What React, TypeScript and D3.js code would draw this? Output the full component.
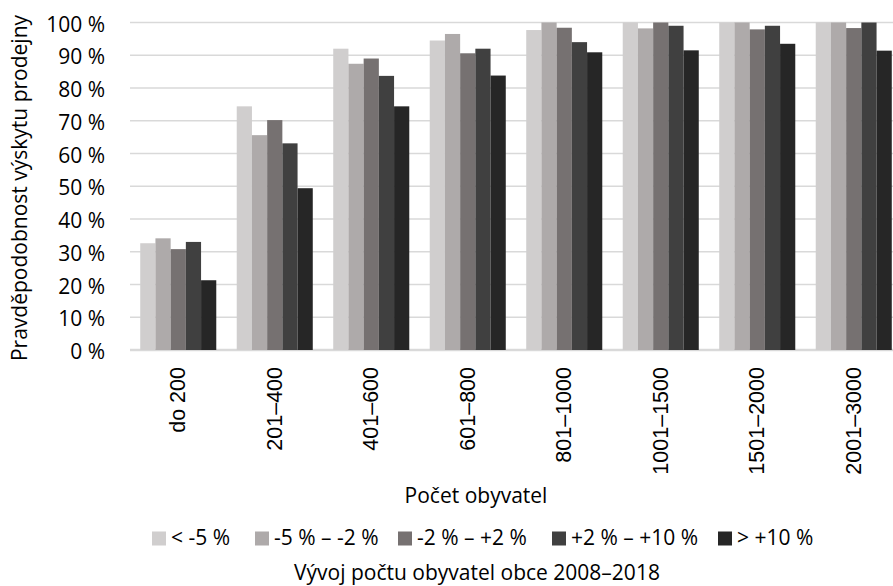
import React from "react";
import * as d3 from "d3";

const categories = ["do 200", "201–400", "401–600", "601–800", "801–1000", "1001–1500", "1501–2000", "2001–3000"];
const seriesNames = ["< -5 %", "-5 % – -2 %", "-2 % – +2 %", "+2 % – +10 %", "> +10 %"];
const sLess5 = [32.6, 74.4, 92.0, 94.5, 97.7, 100, 100, 100];
const sM5M2 = [34.1, 65.6, 87.4, 96.5, 100, 98.2, 100, 100];
const sM2P2 = [30.8, 70.2, 89.0, 90.6, 98.4, 100, 97.9, 98.3];
const sP2P10 = [33.0, 63.1, 83.7, 92.0, 94.0, 99.0, 99.0, 100];
const sMore10 = [21.3, 49.4, 74.4, 83.8, 90.9, 91.5, 93.5, 91.4];
const yTicks = [0, 10, 20, 30, 40, 50, 60, 70, 80, 90, 100];
const colors = ["#d0cece", "#aeaaaa", "#767171", "#404040", "#262626"];
const legendX = [152, 255, 398, 552, 718];

const W = 893, H = 586;
const FONT = "'Open Sans', sans-serif";
const XFONT = "'Liberation Sans', Arial, sans-serif";

export default function App() {
  const series = [sLess5, sM5M2, sM2P2, sP2P10, sMore10];
  const x = d3.scaleBand<string>().domain(categories).range([130, 902]).paddingInner(0.212).paddingOuter(0.106);
  const xs = d3.scaleBand<number>().domain(d3.range(series.length)).range([0, x.bandwidth()]);
  const y = d3.scaleLinear().domain([0, 100]).range([350, 22.5]);

  return (
    <svg width={W} height={H} style={{ position: "absolute", left: 0, top: 0, background: "#fff" }} fontFamily={FONT}>
      {yTicks.map((t) => (
        <g key={t}>
          <line x1={130} x2={W} y1={y(t)} y2={y(t)} stroke="#d9d9d9" strokeWidth={t === 0 ? 2.5 : 1.5} />
          <text x={105} y={y(t) + 1} textAnchor="end" dominantBaseline="central" fontSize={21} fill="#000">
            {t} %
          </text>
        </g>
      ))}
      {series.map((s, si) =>
        s.map((v, ci) => (
          <rect
            key={`${si}-${ci}`}
            x={(x(categories[ci]) as number) + (xs(si) as number)}
            y={y(v)}
            width={xs.bandwidth()}
            height={y(0) - y(v)}
            fill={colors[si]}
          />
        ))
      )}
      {categories.map((c) => {
        const cx = (x(c) as number) + x.bandwidth() / 2;
        return (
          <text key={c} transform={`translate(${cx},${367}) rotate(-90)`} textAnchor="end" dominantBaseline="central" fontSize={21.5} fontFamily={XFONT} fill="#000">
            {c}
          </text>
        );
      })}
      <text transform={`translate(19,${188}) rotate(-90)`} textAnchor="middle" dominantBaseline="central" fontSize={21} fill="#000">
        Pravděpodobnost výskytu prodejny
      </text>
      <text x={476} y={503} textAnchor="middle" fontSize={21} fill="#000">
        Počet obyvatel
      </text>
      {seriesNames.map((n, i) => (
        <g key={n}>
          <rect x={legendX[i]} y={531.5} width={14} height={14} fill={colors[i]} />
          <text x={legendX[i] + 19} y={545} fontSize={21} fill="#000">
            {n}
          </text>
        </g>
      ))}
      <text x={477} y={580} textAnchor="middle" fontSize={21} fill="#000">
        Vývoj počtu obyvatel obce 2008–2018
      </text>
    </svg>
  );
}
